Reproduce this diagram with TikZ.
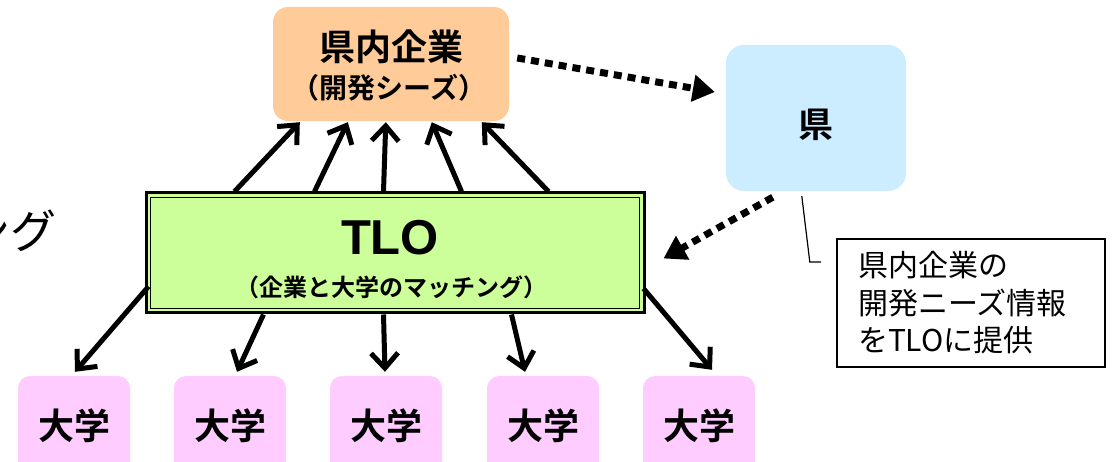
\documentclass[tikz,border=0pt]{standalone}
\usepackage{fontspec}
\setmainfont{Noto Sans CJK JP}
\newfontfamily\jpb[BoldFont={Noto Sans CJK JP Bold}]{Noto Sans CJK JP}
\newfontfamily\latb{Liberation Sans Bold}
\usetikzlibrary{arrows.meta,calc}
\definecolor{orangefill}{HTML}{FFCC99}
\definecolor{bluefill}{HTML}{CCECFF}
\definecolor{greenfill}{HTML}{CCFF99}
\definecolor{pinkfill}{HTML}{FFCCFF}
\tikzset{
  topbox/.style={fill=orangefill,draw=none,rounded corners=15pt,minimum width=236pt,minimum height=114pt,inner sep=0pt,align=center},
  prefbox/.style={fill=bluefill,draw=none,rounded corners=18pt,minimum width=180pt,minimum height=146pt,inner sep=0pt},
  tlobox/.style={fill=greenfill,draw=black,line width=3pt,minimum width=498pt,minimum height=120pt,inner sep=0pt},
  unibox/.style={fill=pinkfill,draw=none,rounded corners=12pt,minimum width=112pt,minimum height=100pt,inner sep=0pt,font=\fontsize{36pt}{38pt}\jpb\bfseries},
  notebox/.style={draw=black,line width=1.6pt,text width=226pt,inner xsep=21pt,minimum height=128pt,align=left,font=\fontsize{30pt}{37.5pt}\selectfont},
  arr/.style={line width=5pt,-{Straight Barb[length=15pt,width=27pt,line width=5pt]}},
  dotarr/.style={line width=7pt,dash pattern=on 8pt off 6pt,-{Triangle[length=22pt,width=26pt]}},
}
\begin{document}
\begin{tikzpicture}[x=1pt,y=-1pt]
\useasboundingbox (0,0) rectangle (1112,462);
% partial text at left (cut off by the picture's edge, as in the reference)
\node[anchor=east,inner sep=0pt,font=\fontsize{46pt}{48pt}\selectfont] (cut) at (57,231) {ング};
% top box
\node[topbox] (top) at (391,64) {};
\node[font=\fontsize{36pt}{38pt}\jpb\bfseries] (toptitle) at (391,47) {県内企業};
\node[font=\fontsize{28pt}{30pt}\jpb\bfseries] (topsub) at (389,88) {（開発シーズ）};
% prefecture
\node[prefbox] (pref) at (816,118) {};
\node[font=\fontsize{35pt}{37pt}\jpb\bfseries] (preftext) at (816,125) {県};
% TLO
\node[tlobox] (tlo) at (395,253) {};
\draw[line width=1.8pt] ($(tlo.north west)+(6,6)$) rectangle ($(tlo.south east)+(-6,-6)$);
\node[font=\fontsize{49pt}{51pt}\latb] (tlotext) at (390,238) {TLO};
\node[font=\fontsize{24pt}{26pt}\jpb\bfseries] (tlosub) at (391,287) {（企業と大学のマッチング）};
% universities
\node[unibox] (u1) at (74,426) {大学};
\node[unibox] (u2) at (230,426) {大学};
\node[unibox] (u3) at (386,426) {大学};
\node[unibox] (u4) at (543,426) {大学};
\node[unibox] (u5) at (699,426) {大学};
% note
\node[notebox] (note) at (971,303) {県内企業の\\開発ニーズ情報\\をTLOに提供};
% up arrows
\draw[arr] ($(tlo.north west)+(90,0)$) -- ($(top.south west)+(27,1)$);
\draw[arr] ($(tlo.north west)+(170,0)$) -- ($(top.south west)+(75,1)$);
\draw[arr] ($(tlo.north west)+(239,0)$) -- ($(top.south west)+(113,1)$);
\draw[arr] ($(tlo.north west)+(317,0)$) -- ($(top.south west)+(159,1)$);
\draw[arr] ($(tlo.north west)+(404,0)$) -- ($(top.south west)+(209,1)$);
% down arrows
\draw[arr] ($(tlo.north west)+(4,95)$) -- ($(u1.north)+(1,-4)$);
\draw[arr] ($(tlo.south west)+(119,0)$) -- ($(u2.north)+(7,-4)$);
\draw[arr] ($(tlo.south west)+(239,0)$) -- ($(u3.north)+(-1,-4)$);
\draw[arr] ($(tlo.south west)+(367,0)$) -- ($(u4.north)+(-18,-4)$);
\draw[arr] ($(tlo.north east)+(-2,97)$) -- ($(u5.north)+(13,-6)$);
% dotted arrows
\draw[dotarr] ($(top.east)+(8,-6)$) -- ($(pref.west)+(-11,-26)$);
\draw[dotarr] ($(pref.south west)+(47,6)$) -- ($(tlo.north east)+(18,67)$);
% callout line
\coordinate (c1) at ($(pref.south west)+(76,5)$);
\coordinate (c2) at ($(note.west)+(-15,-41)$);
\draw[line width=1.2pt] (c1) -- ($(c1 |- c2)+(8,0)$) -- (c2);
\end{tikzpicture}
\end{document}
